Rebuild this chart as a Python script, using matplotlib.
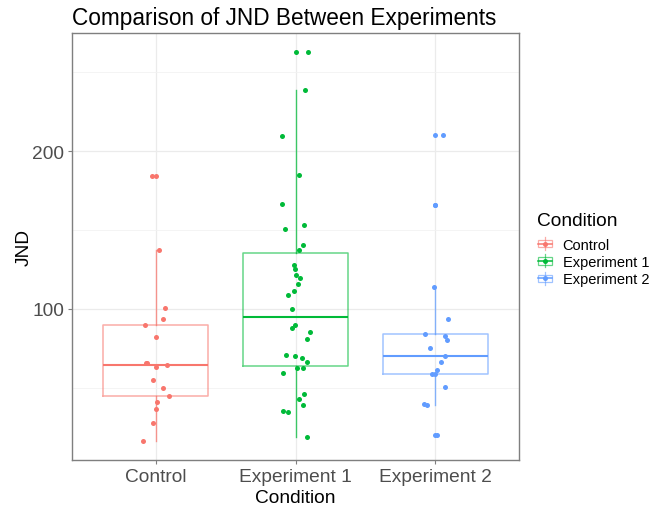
#Boxplot + jitter of JND by condition (ggplot look)

import numpy as np
import matplotlib
matplotlib.use("Agg")
import matplotlib.pyplot as plt
from matplotlib.lines import Line2D
from matplotlib.patches import Rectangle
from matplotlib.legend_handler import HandlerBase

plt.rcParams['font.family'] = ['Liberation Sans', 'DejaVu Sans']

#Data
conditions = ['Control', 'Experiment 1', 'Experiment 2']
colors = ['#F8766D', '#00BA38', '#619CFF']

jnd_control = [184.0, 137.5, 100.4, 93.2, 89.5, 82.3, 65.4, 65.4, 64.1, 63.3,
               54.6, 50.0, 44.5, 40.7, 36.3, 27.2, 16.3]
jit_control = [-0.026, 0.024, 0.069, 0.055, -0.074, 0.002, -0.069, -0.060, 0.081, -0.002,
               -0.017, 0.050, 0.095, 0.010, -0.002, -0.021, -0.095]

jnd_exp1 = [262.7, 238.6, 209.9, 185.0, 166.7, 153.4, 150.6, 140.7, 137.5, 128.0,
            125.1, 121.1, 119.6, 115.6, 111.0, 108.7, 99.6, 89.5, 87.8, 85.0,
            80.6, 70.9, 70.0, 68.5, 66.5, 62.7, 62.7, 59.5, 46.0, 43.0,
            39.0, 35.0, 34.2, 18.6]
jit_exp1 = [0.093, 0.071, -0.098, 0.024, -0.098, 0.062, -0.076, 0.057, 0.024, -0.010,
            -0.005, 0.005, 0.031, 0.019, -0.010, -0.057, -0.026, -0.005, -0.026, 0.102,
            0.083, -0.071, -0.005, 0.043, 0.083, 0.010, 0.052, -0.093, 0.062, 0.024,
            0.057, -0.088, -0.057, 0.083]

jnd_exp2 = [210.3, 165.8, 113.7, 93.2, 83.8, 82.5, 80.0, 75.1, 70.0, 66.5,
            61.2, 58.6, 58.4, 50.4, 39.3, 38.9, 19.6]
jit_exp2 = [0.057, 0.002, -0.010, 0.093, -0.071, 0.067, 0.088, -0.040, 0.067, 0.045,
            0.010, -0.026, 0.002, 0.067, -0.081, -0.062, 0.012]

groups = [jnd_control, jnd_exp1, jnd_exp2]
jitters = [jit_control, jit_exp1, jit_exp2]


class BoxKey(HandlerBase):
    # little boxplot glyph like ggplot's legend key
    def create_artists(self, legend, orig_handle, xdescent, ydescent,
                       width, height, fontsize, trans):
        c = orig_handle.get_color()
        x0, y0 = -xdescent, -ydescent
        cx, cy = x0 + width / 2, y0 + height / 2
        wl = Line2D([cx, cx], [y0, y0 + height], color=c, lw=0.9, alpha=0.6)
        box = Rectangle((x0 + 0.05 * width, y0 + 0.22 * height), 0.9 * width, 0.56 * height,
                        fc='white', ec=c, lw=0.9, alpha=0.6)
        med = Line2D([x0 + 0.05 * width, x0 + 0.95 * width], [cy, cy], color=c, lw=1.1)
        pt = Line2D([cx], [cy], marker='o', ms=3.6, color=c, ls='none', mew=0)
        arts = [box, wl, med, pt]
        for a in arts:
            a.set_transform(trans)
        return arts


fig = plt.figure(figsize=(6.51, 5.06), dpi=100)
ax = fig.add_axes([72 / 651, 1 - 461 / 506, 447 / 651, 427 / 506])

for i, (vals, jit, c) in enumerate(zip(groups, jitters, colors)):
    pos = i + 1
    ax.boxplot(vals, positions=[pos], widths=0.75, whis=1.5, showcaps=False,
               boxprops=dict(color=c, lw=1.1, alpha=0.6),
               whiskerprops=dict(color=c, lw=1.0, alpha=0.75),
               medianprops=dict(color=c, lw=1.5),
               flierprops=dict(marker='o', markersize=3.6, markerfacecolor=c,
                               markeredgecolor=c, mew=0),
               zorder=2)
    ax.scatter(pos + np.array(jit), vals, s=13, color=c, lw=0, zorder=3)

ax.set_xlim(0.4, 3.6)
ax.set_ylim(4.0, 275.0)
ax.set_xticks([1, 2, 3])
ax.set_xticklabels(conditions)
ax.set_yticks([100, 200])
ax.set_yticks([50, 150, 250], minor=True)

ax.grid(True, which='major', color='#EBEBEB', lw=0.9, zorder=0)
ax.grid(True, which='minor', axis='y', color='#F2F2F2', lw=0.6, zorder=0)
ax.set_axisbelow(True)

for s in ax.spines.values():
    s.set_color('#7F7F7F')
    s.set_linewidth(1.0)
ax.tick_params(axis='both', which='major', length=3.0, width=0.8, color='#7F7F7F',
               labelsize=13.8, labelcolor='#4D4D4D', pad=2.5)
ax.tick_params(axis='y', which='minor', length=0)

ax.set_xlabel('Condition', fontsize=13.8, color='black', labelpad=3)
ax.set_ylabel('JND', fontsize=13.8, color='black', labelpad=-0.5)

fig.text(72 / 651, 1 - 25 / 506, 'Comparison of JND Between Experiments',
         fontsize=16.3, color='black', ha='left', va='baseline')

# legend title as its own text so the gap to the keys matches
fig.text(537 / 651, 1 - 226 / 506, 'Condition', fontsize=13.8, color='black',
         ha='left', va='baseline')

handles = [Line2D([], [], color=c) for c in colors]
leg = ax.legend(handles, conditions, handler_map={Line2D: BoxKey()},
                loc='upper left',
                bbox_to_anchor=(537 / 651, 1 - 238 / 506), bbox_transform=fig.transFigure,
                frameon=False, fontsize=10.5, alignment='left',
                handlelength=1.05, handleheight=1.0, handletextpad=0.7,
                labelspacing=0.2, borderpad=0, borderaxespad=0)

plt.savefig('out.png', dpi=100)
